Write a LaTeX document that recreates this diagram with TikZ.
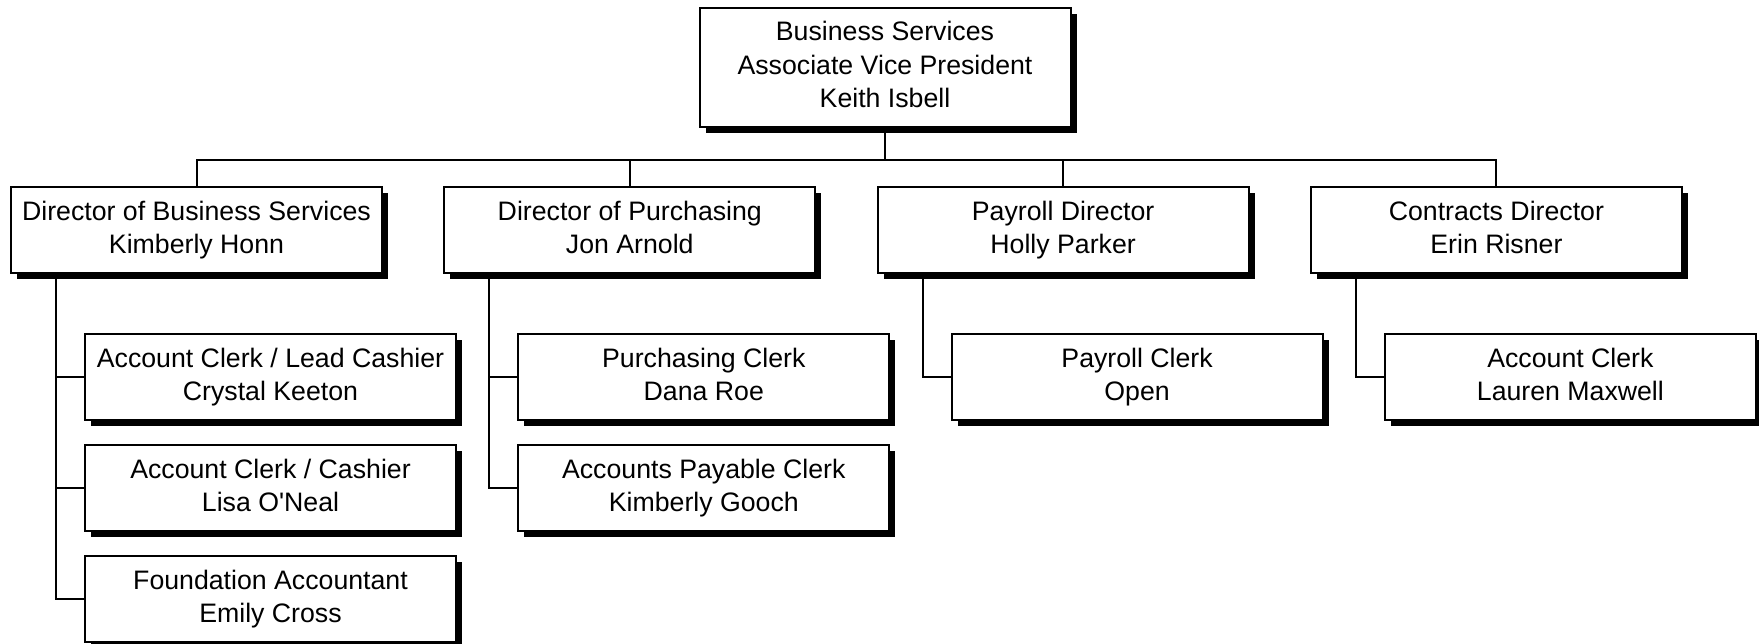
\documentclass[tikz,border=0pt]{standalone}
\usepackage{fontspec}
\setmainfont{Liberation Sans}
\usetikzlibrary{shadows}

\tikzset{
	post/.style={draw, line width=2pt, fill=white, minimum width=371pt, minimum height=86pt,
		inner sep=0pt, align=center, font=\fontsize{26.7}{33.3}\selectfont,
		execute at begin node={\rule{0pt}{26pt}}, execute at end node={\rule[-6pt]{0pt}{6pt}},
		drop shadow={shadow xshift=6pt, shadow yshift=-6pt, fill=black, opacity=1}},
	link/.style={line width=2pt},
}

\begin{document}
\begin{tikzpicture}[x=1pt, y=-1pt]
	\useasboundingbox (0,0) rectangle (1759,643);
	\coordinate (bus) at (0,160);
	% top and directors
	\node[post, minimum height=119pt] (avp) at (885, 67.5) {Business Services\\Associate Vice President\\Keith Isbell};
	\node[post] (dbs) at (196.5, 230) {Director of Business Services\\Kimberly Honn};
	\node[post] (dpu) at (629.8, 230) {Director of Purchasing\\Jon Arnold};
	\node[post] (dpa) at (1063.1, 230) {Payroll Director\\Holly Parker};
	\node[post] (dco) at (1496.4, 230) {Contracts Director\\Erin Risner};
	% staff
	\node[post] (ckee) at (270.5, 377) {Account Clerk / Lead Cashier\\Crystal Keeton};
	\node[post] (lone) at (270.5, 488) {Account Clerk / Cashier\\Lisa O\textquotesingle Neal};
	\node[post] (ecro) at (270.5, 599) {Foundation Accountant\\Emily Cross};
	\node[post] (droe) at (703.8, 377) {Purchasing Clerk\\Dana Roe};
	\node[post] (kgoo) at (703.8, 488) {Accounts Payable Clerk\\Kimberly Gooch};
	\node[post] (open) at (1137.1, 377) {Payroll Clerk\\Open};
	\node[post] (lmax) at (1570.4, 377) {Account Clerk\\Lauren Maxwell};
	% lines
	\foreach \d in {dbs, dpu, dpa, dco}
		\draw[link] (avp.south) -- (avp.south |- bus) -| (\d.north);
	\foreach \d/\s in {dbs/ckee, dbs/lone, dbs/ecro, dpu/droe, dpu/kgoo, dpa/open, dco/lmax}
		\draw[link] ([xshift=46pt]\d.south west) |- (\s.west);
\end{tikzpicture}
\end{document}
